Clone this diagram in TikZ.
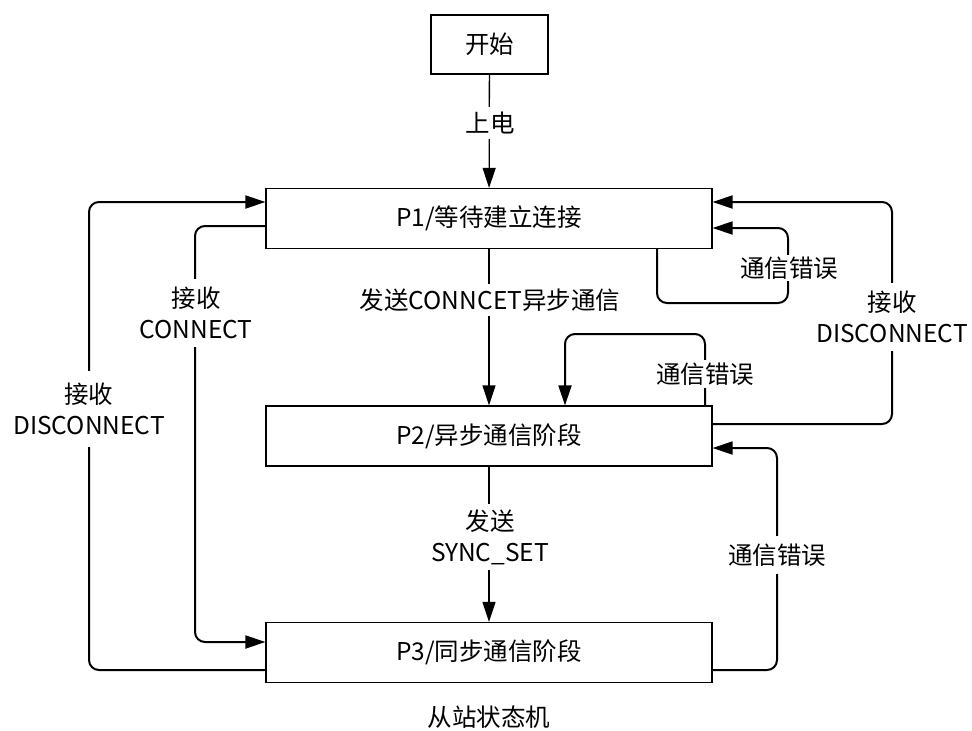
\documentclass[tikz,border=0pt]{standalone}
\usepackage{fontspec}
\setmainfont{Noto Sans CJK SC}
\usetikzlibrary{arrows.meta}
\tikzset{
  box/.style={draw, line width=1.2pt, minimum width=446pt, minimum height=60pt, inner sep=0pt, font=\fontsize{24.5}{30}\selectfont},
  lbl/.style={fill=white, inner xsep=2pt, inner ysep=5pt, align=center, font=\fontsize{24.5}{31}\selectfont},
  conn/.style={line width=2pt, rounded corners=10pt, -{Triangle[length=20pt,width=13pt]}},
  sconn/.style={line width=1.3pt, -{Triangle[length=20pt,width=13pt]}},
}
\begin{document}
\begin{tikzpicture}[x=1pt,y=-1pt]
\useasboundingbox (0,0) rectangle (972,731);
\node[box, minimum width=117pt, minimum height=59pt] (start) at (489.5,44.5) {开始};
\node[box] (p1) at (489,218.5) {P1/等待建立连接};
\node[box] (p2) at (489,436) {P2/异步通信阶段};
\node[box] (p3) at (489,652.5) {P3/同步通信阶段};
\node[font=\fontsize{24.5}{30}\selectfont] (title) at (489,717) {从站状态机};

% straight centre connectors
\draw[sconn] (start) -- (p1);
\draw[sconn] (p1) -- (p2);
\draw[sconn] (p2) -- (p3);
\node[lbl] (l1) at (490,123) {上电};
\node[lbl] (l2) at (490,300) {发送CONNCET异步通信};
\node[lbl] (l3) at (490,537) {发送\\SYNC\_SET};

% left outer: P3 -> P1
\draw[conn] ([yshift=-17.5pt]p3.west) -| (89,202) -- ([yshift=16.5pt]p1.west);
\node[lbl, inner ysep=12pt] (l4) at (89,409) {接收\\DISCONNECT};
% left inner: P1 -> P3
\draw[conn] ([yshift=-7.5pt]p1.west) -| (195,642) -- ([yshift=10.5pt]p3.west);
\node[lbl, inner ysep=8pt] (l5) at (196,313) {接收\\CONNECT};

% P1 self loop
\draw[conn] ([xshift=168pt]p1.south) |- (788,303) |- ([yshift=-9.5pt]p1.east);
\node[lbl, inner ysep=2pt] (l6) at (789,268) {通信错误};
% right outer: P2 -> P1
\draw[conn] ([yshift=12pt]p2.east) -| (892,202) -- ([yshift=16.5pt]p1.east);
\node[lbl, inner ysep=8pt] (l7) at (892,317) {接收\\DISCONNECT};
% P2 self loop
\draw[conn] ([xshift=216pt]p2.north) |- (565,334) -- ([xshift=76pt]p2.north);
\node[lbl, inner ysep=3pt] (l8) at (705,374) {通信错误};
% P3 -> P2
\draw[conn] ([yshift=-17.5pt]p3.east) -| (777,448) -- ([yshift=-12pt]p2.east);
\node[lbl, inner ysep=8pt] (l9) at (777,555) {通信错误};
\end{tikzpicture}
\end{document}
